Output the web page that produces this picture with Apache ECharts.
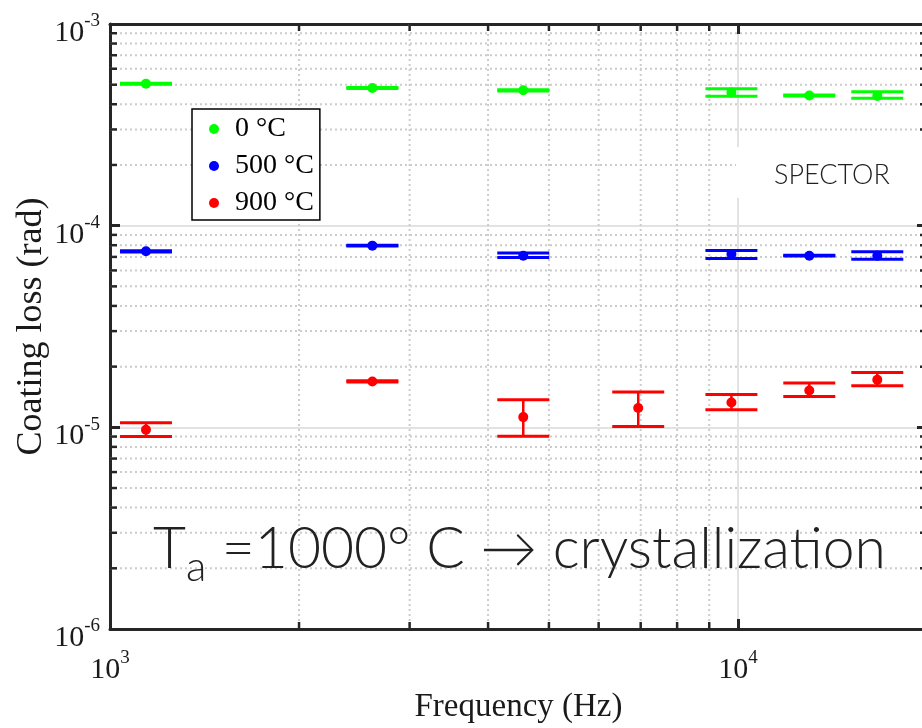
<!DOCTYPE html>
<html><head><meta charset="utf-8">
<script src="https://cdn.jsdelivr.net/npm/echarts@6/dist/echarts.min.js"></script>
<style>html,body{margin:0;padding:0;background:#fff}#c{width:922px;height:728px}</style>
</head><body><div id="c"></div>
<script>
// ---- data ----
const freqGB = [1141, 2617, 4551, 9763, 12989, 16667];
const freqRed = [1141, 2617, 4551, 6937, 9763, 12989, 16667];

const loss0 = [5.05e-4, 4.82e-4, 4.69e-4, 4.57e-4, 4.42e-4, 4.40e-4];
const loss0Low = [5.02e-4, 4.79e-4, 4.66e-4, 4.38e-4, 4.39e-4, 4.28e-4];
const loss0High = [5.08e-4, 4.85e-4, 4.72e-4, 4.78e-4, 4.45e-4, 4.61e-4];

const loss500 = [7.46e-5, 7.96e-5, 7.10e-5, 7.24e-5, 7.10e-5, 7.10e-5];
const loss500Low = [7.40e-5, 7.92e-5, 6.96e-5, 6.88e-5, 7.07e-5, 6.81e-5];
const loss500High = [7.52e-5, 8.00e-5, 7.32e-5, 7.54e-5, 7.13e-5, 7.43e-5];

const loss900 = [9.72e-6, 1.688e-5, 1.124e-5, 1.246e-5, 1.328e-5, 1.523e-5, 1.72e-5];
const loss900Low = [9.00e-6, 1.68e-5, 9.04e-6, 1.009e-5, 1.221e-5, 1.422e-5, 1.607e-5];
const loss900High = [1.053e-5, 1.70e-5, 1.369e-5, 1.495e-5, 1.455e-5, 1.657e-5, 1.871e-5];

const seriesNames = ['0 \u00B0C', '500 \u00B0C', '900 \u00B0C'];
const seriesColors = ['#00ff00', '#0000ff', '#ff0000'];

const xRange = [1000, 20000];
const yRange = [1e-6, 1e-3];
const minorXTicks = [2000, 3000, 4000, 5000, 6000, 7000, 8000, 9000];
const minorYTicks = [2e-6, 3e-6, 4e-6, 5e-6, 6e-6, 7e-6, 8e-6, 9e-6,
                     2e-5, 3e-5, 4e-5, 5e-5, 6e-5, 7e-5, 8e-5, 9e-5,
                     2e-4, 3e-4, 4e-4, 5e-4, 6e-4, 7e-4, 8e-4, 9e-4];

const xTitle = 'Frequency (Hz)';
const yTitle = 'Coating loss (rad)';
const noteText = ' =1000\u00B0 C \u2192 crystallization';
const brandText = 'SPECTOR';

// ---- styles ----
const AXC = '#262626';
const TXC = '#1a1a1a';
const SERIF = 'Liberation Serif';
const THIN = 'Lato';

function powLabel(v) {
  const e = Math.log10(v);
  const r = Math.round(e);
  if (Math.abs(e - r) > 1e-6) return '';
  return '{b|10}{s|' + r + '}';
}
const labelRich = {
  b: {fontFamily: SERIF, fontSize: 30, color: TXC, lineHeight: 36, verticalAlign: 'bottom'},
  s: {fontFamily: SERIF, fontSize: 19, color: TXC, lineHeight: 19, verticalAlign: 'top'}
};

function zip3(x, a, b) { return x.map((v, i) => [v, a[i], b[i]]); }
function zip2(x, a) { return x.map((v, i) => [v, a[i]]); }

function errRender(color) {
  return function (params, api) {
    const x = api.value(0);
    const pLo = api.coord([x, api.value(1)]);
    const pHi = api.coord([x, api.value(2)]);
    const hw = 26;
    return {
      type: 'group',
      children: [
        {type: 'line', shape: {x1: pLo[0] - hw, y1: pLo[1], x2: pLo[0] + hw, y2: pLo[1]}, style: {stroke: color, lineWidth: 3}},
        {type: 'line', shape: {x1: pHi[0] - hw, y1: pHi[1], x2: pHi[0] + hw, y2: pHi[1]}, style: {stroke: color, lineWidth: 3}},
        {type: 'line', shape: {x1: pLo[0], y1: pLo[1], x2: pHi[0], y2: pHi[1]}, style: {stroke: color, lineWidth: 2.5}}
      ]
    };
  };
}

function minorXRender(params, api) {
  const cs = params.coordSys;
  const p = api.coord([api.value(0), api.value(1)]);
  const x = p[0];
  return {
    type: 'group',
    children: [
      {type: 'line', shape: {x1: x, y1: cs.y, x2: x, y2: cs.y + cs.height}, style: {stroke: '#cccccc', lineWidth: 2, lineDash: [2, 3]}},
      {type: 'line', shape: {x1: x, y1: cs.y, x2: x, y2: cs.y + 7}, style: {stroke: AXC, lineWidth: 2.5}},
      {type: 'line', shape: {x1: x, y1: cs.y + cs.height, x2: x, y2: cs.y + cs.height - 7}, style: {stroke: AXC, lineWidth: 2.5}}
    ]
  };
}
function minorYRender(params, api) {
  const cs = params.coordSys;
  const p = api.coord([api.value(0), api.value(1)]);
  const y = p[1];
  return {
    type: 'group',
    children: [
      {type: 'line', shape: {x1: cs.x, y1: y, x2: cs.x + cs.width, y2: y}, style: {stroke: '#cccccc', lineWidth: 2, lineDash: [2, 3]}},
      {type: 'line', shape: {x1: cs.x, y1: y, x2: cs.x + 7, y2: y}, style: {stroke: AXC, lineWidth: 2.5}},
      {type: 'line', shape: {x1: cs.x + cs.width, y1: y, x2: cs.x + cs.width - 7, y2: y}, style: {stroke: AXC, lineWidth: 2.5}}
    ]
  };
}

const axisCommon = {
  type: 'log', logBase: 10,
  axisLine: {show: true, onZero: false, lineStyle: {color: AXC, width: 3}},
  axisTick: {show: true, inside: true, length: 10, lineStyle: {color: AXC, width: 3}},
  minorTick: {show: false},
  minorSplitLine: {show: false},
  nameMoveOverlap: false
};

const chart = echarts.init(document.getElementById('c'));
const option = {
  animation: false,
  backgroundColor: '#fff',
  grid: {left: 110, top: 24, right: -5, bottom: 99, containLabel: false, outerBoundsMode: 'none'},
  xAxis: [
    Object.assign({}, axisCommon, {
      position: 'bottom', min: xRange[0], max: xRange[1],
      axisLabel: {show: true, margin: 20, formatter: powLabel, rich: labelRich, showMinLabel: true, showMaxLabel: false, hideOverlap: false},
      splitLine: {show: true, lineStyle: {color: '#e2e2e2', width: 2}},
      name: xTitle, nameLocation: 'middle', nameGap: 62,
      nameTextStyle: {fontFamily: SERIF, fontSize: 33, color: TXC}
    }),
    Object.assign({}, axisCommon, {
      position: 'top', min: xRange[0], max: xRange[1],
      axisLabel: {show: false}, splitLine: {show: false}
    })
  ],
  yAxis: [
    Object.assign({}, axisCommon, {
      position: 'left', min: yRange[0], max: yRange[1],
      axisLabel: {show: true, margin: 10, formatter: powLabel, rich: labelRich, hideOverlap: false, padding: [12, 0, 0, 0]},
      splitLine: {show: true, lineStyle: {color: '#e2e2e2', width: 2}},
      name: yTitle, nameLocation: 'middle', nameGap: 60, nameRotate: 90,
      nameTextStyle: {fontFamily: SERIF, fontSize: 36, color: TXC}
    }),
    Object.assign({}, axisCommon, {
      position: 'right', min: yRange[0], max: yRange[1],
      axisLabel: {show: false}, splitLine: {show: false}
    })
  ],
  legend: {
    orient: 'vertical', left: 192, top: 109,
    data: seriesNames.map(n => ({name: n, icon: 'circle'})),
    itemWidth: 10, itemHeight: 10, itemGap: 9, itemTextGap: 10,
    padding: [6, 6, 3, 17],
    borderColor: '#000', borderWidth: 1.5, backgroundColor: '#fff',
    itemStyle: {opacity: 1},
    textStyle: {fontFamily: SERIF, fontSize: 28, color: '#000', lineHeight: 27, padding: [0, 0, 0, 11]},
    selectedMode: false
  },
  series: [
    {type: 'custom', name: 'minorX', coordinateSystem: 'cartesian2d', z: 1, silent: true,
     data: minorXTicks.map(v => [v, yRange[1]]), renderItem: minorXRender, encode: {x: 0, y: 1}},
    {type: 'custom', name: 'minorY', coordinateSystem: 'cartesian2d', z: 1, silent: true,
     data: minorYTicks.map(v => [xRange[0], v]), renderItem: minorYRender, encode: {x: 0, y: 1}},
    {type: 'custom', name: 'err0', z: 3, data: zip3(freqGB, loss0Low, loss0High), renderItem: errRender(seriesColors[0]), encode: {x: 0, y: [1, 2]}},
    {type: 'custom', name: 'err500', z: 3, data: zip3(freqGB, loss500Low, loss500High), renderItem: errRender(seriesColors[1]), encode: {x: 0, y: [1, 2]}},
    {type: 'custom', name: 'err900', z: 3, data: zip3(freqRed, loss900Low, loss900High), renderItem: errRender(seriesColors[2]), encode: {x: 0, y: [1, 2]}},
    {type: 'scatter', name: seriesNames[0], z: 4, symbol: 'circle', symbolSize: 10, itemStyle: {color: seriesColors[0], opacity: 1}, data: zip2(freqGB, loss0)},
    {type: 'scatter', name: seriesNames[1], z: 4, symbol: 'circle', symbolSize: 10, itemStyle: {color: seriesColors[1], opacity: 1}, data: zip2(freqGB, loss500)},
    {type: 'scatter', name: seriesNames[2], z: 4, symbol: 'circle', symbolSize: 10, itemStyle: {color: seriesColors[2], opacity: 1}, data: zip2(freqRed, loss900)}
  ],
  graphic: [
    {type: 'rect', z: 1.8, silent: true, shape: {x: 736, y: 147, width: 190, height: 51}, style: {fill: '#fff'}},
    {type: 'text', z: 6, silent: true, x: 774, y: 188.5,
     style: {text: brandText, fontFamily: THIN, fontWeight: 300, fontSize: 27, fill: '#222', verticalAlign: 'bottom'}},
    {type: 'text', z: 6, silent: true, x: 153, y: 588.5,
     style: {
       text: '{t|T}{a|a}{t|' + noteText + '}',
       verticalAlign: 'bottom',
       rich: {
         t: {fontFamily: THIN, fontWeight: 300, fontSize: 57, fill: '#222', lineHeight: 57, verticalAlign: 'bottom', padding: [0, 0, 10, 0]},
         a: {fontFamily: THIN, fontWeight: 300, fontSize: 42, fill: '#222', lineHeight: 42, verticalAlign: 'bottom'}
       }
     }}
  ]
};
chart.setOption(option);
</script>
</body></html>
